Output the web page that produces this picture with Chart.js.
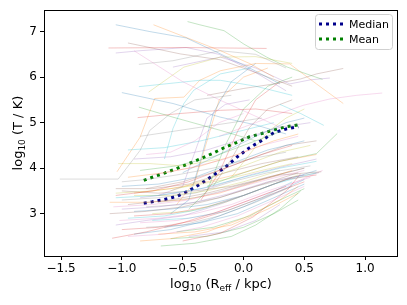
<!DOCTYPE html>
<html lang="en">
<head>
    <meta charset="UTF-8">
    <title>Temperature vs effective radius</title>
    <script src="https://cdn.jsdelivr.net/npm/chart.js"></script>
    <style>
        body { margin: 0; background: #fff; }
        canvas { display: block; }
    </style>
</head>
<body>
    <canvas id="tempChart" width="407" height="305"></canvas>
    <script>
        // summary curves
        const medianX = [-0.82, -0.75, -0.65, -0.55, -0.45, -0.35, -0.25, -0.15, -0.05, 0.05, 0.15, 0.25, 0.35, 0.45];
        const medianY = [3.23, 3.26, 3.31, 3.38, 3.50, 3.66, 3.84, 4.02, 4.25, 4.45, 4.61, 4.78, 4.86, 4.91];
        const meanX = [-0.82, -0.75, -0.65, -0.55, -0.45, -0.35, -0.25, -0.15, -0.05, 0.05, 0.15, 0.25, 0.35, 0.45];
        const meanY = [3.73, 3.80, 3.89, 3.99, 4.10, 4.21, 4.33, 4.46, 4.57, 4.69, 4.76, 4.84, 4.91, 4.95];

        const xTicks = [-1.5, -1.0, -0.5, 0.0, 0.5, 1.0];
        const yTicks = [3, 4, 5, 6, 7];

        // individual tracks, [log R, log T] pairs
        const upperTracks = [
            [[-1.05,7.15],[-0.77,7.0],[-0.47,6.86],[-0.19,6.51],[0.05,6.2],[0.3,5.85]],
            [[-0.74,7.15],[-0.47,6.87],[-0.19,6.58],[0.05,6.3],[0.25,6.0]],
            [[-0.46,7.22],[-0.36,7.15],[-0.16,7.02],[0.0,6.73],[0.19,6.44],[0.36,6.22],[0.55,6.04],[0.65,5.95]],
            [[-1.11,6.64],[-0.5,6.65],[0.19,6.63]],
            [[-1.05,6.53],[-0.85,6.58],[-0.47,6.65],[-0.2,6.5],[0.1,6.1],[0.35,5.7]],
            [[-0.95,6.75],[-0.52,6.51],[-0.19,6.38],[0.1,6.1],[0.4,5.8]],
            [[-0.9,6.58],[-0.5,5.9],[-0.19,5.49],[0.05,5.2],[0.3,4.9]],
            [[-0.86,6.28],[-0.58,6.36],[-0.19,6.58],[0.1,6.5],[0.35,6.2]],
            [[-0.78,5.67],[-0.49,6.22],[-0.19,6.44],[0.1,6.45],[0.4,6.3]],
            [[-0.86,5.79],[-0.36,5.93],[-0.19,5.93],[0.1,5.8],[0.4,5.6]],
            [[-1.0,5.66],[-0.58,5.42],[-0.19,5.12],[0.1,4.95],[0.35,4.75]],
            [[-1.04,3.92],[-0.85,4.68],[-0.73,5.53],[-0.49,5.56],[-0.36,5.93],[-0.19,6.14],[0.1,6.3],[0.38,6.29],[0.6,5.85],[0.82,5.42]],
            [[-0.86,5.34],[-0.58,5.12],[-0.19,4.83],[0.1,4.6]],
            [[-0.87,5.11],[-0.52,5.2],[-0.19,5.27],[0.1,5.3],[0.4,5.2]],
            [[-0.58,6.22],[-0.19,6.44],[0.1,6.2],[0.38,5.85],[0.55,5.94],[0.71,5.98]],
            [[-0.3,5.6],[0.0,5.75],[0.25,5.85],[0.47,5.96],[0.6,6.07],[0.82,6.19]],
            [[-0.2,4.7],[0.1,5.0],[0.3,5.2],[0.49,5.38],[0.71,5.52],[0.93,5.6],[1.14,5.65]],
            [[-1.51,3.76],[-1.03,3.76],[-0.85,4.39],[-0.77,4.83],[-0.6,5.2],[-0.4,5.5],[-0.1,5.6]],
            [[-1.03,4.1],[-0.77,4.1],[-0.5,4.05],[-0.2,4.2]],
            [[0.3,5.4],[0.47,5.2],[0.66,4.94]],
            [[-0.6,3.0],[-0.45,3.3],[-0.35,4.2],[-0.25,5.2],[-0.1,5.9],[0.1,6.3]],
            [[-0.55,3.2],[-0.4,3.7],[-0.3,4.6],[-0.2,5.5],[0.0,6.0],[0.2,6.2]],
            [[-0.45,3.1],[-0.3,3.5],[-0.15,4.5],[0.0,5.3],[0.2,5.8],[0.4,6.0]],
            [[-0.35,3.3],[-0.2,3.9],[-0.05,4.8],[0.1,5.5],[0.3,5.9]],
            [[-0.7,3.4],[-0.5,3.6],[-0.38,4.5],[-0.3,5.1],[-0.15,5.4],[0.05,5.5]],
            [[-0.25,3.6],[-0.1,4.2],[0.05,4.9],[0.2,5.3],[0.4,5.5]],
            [[-0.8,4.3],[-0.6,4.35],[-0.4,4.6],[-0.2,5.0],[0.0,5.2]],
            [[-0.85,4.7],[-0.6,4.8],[-0.35,4.9],[-0.1,5.0],[0.15,5.1]],
            [[-0.1,3.8],[0.05,4.3],[0.2,4.8],[0.35,5.1],[0.5,5.3]],
            [[-0.65,4.2],[-0.58,4.87],[-0.49,5.42],[-0.41,5.71],[-0.19,6.07],[0.05,6.2]]
        ];

        const middleTracks = [
            [[-1.0,3.6],[-0.7,3.65],[-0.4,3.8],[-0.1,4.1],[0.2,4.4],[0.5,4.6]],
            [[-0.95,3.8],[-0.65,3.9],[-0.35,4.05],[-0.05,4.3],[0.25,4.6],[0.45,4.75]],
            [[-0.85,3.95],[-0.55,4.05],[-0.25,4.25],[0.05,4.55],[0.3,4.8]],
            [[-1.05,3.4],[-0.75,3.5],[-0.45,3.7],[-0.15,4.0],[0.15,4.3],[0.4,4.5]],
            [[-0.9,4.2],[-0.6,4.25],[-0.3,4.4],[0.0,4.65],[0.3,4.9],[0.55,5.0]],
            [[-0.8,3.55],[-0.5,3.7],[-0.2,3.95],[0.1,4.25],[0.35,4.5],[0.6,4.6]],
            [[-0.75,3.85],[-0.45,4.0],[-0.15,4.2],[0.15,4.5],[0.45,4.7]],
            [[-1.0,3.7],[-0.8,3.75],[-0.55,3.85],[-0.25,4.0],[0.05,4.2],[0.35,4.35]],
            [[-0.6,3.5],[-0.3,3.75],[0.0,4.05],[0.3,4.35],[0.55,4.5]],
            [[-0.95,4.4],[-0.65,4.45],[-0.35,4.6],[-0.05,4.8],[0.25,5.0]],
            [[-0.5,3.9],[-0.2,4.3],[0.1,4.7],[0.35,5.0],[0.5,5.1]],
            [[-0.9,3.45],[-0.6,3.55],[-0.3,3.7],[0.0,3.9],[0.3,4.15],[0.6,4.3]],
            [[-0.3,3.6],[0.0,3.9],[0.3,4.15],[0.6,4.32],[0.77,4.76]]
        ];

        const lowerTracks = [
            [[-1.08,2.46],[-0.8,2.6],[-0.5,2.8],[-0.2,3.05],[0.1,3.35],[0.35,3.6]],
            [[-1.05,2.75],[-0.8,2.85],[-0.5,2.95],[-0.2,3.2],[0.1,3.5],[0.4,3.8]],
            [[-1.1,3.0],[-0.8,3.05],[-0.5,3.15],[-0.2,3.35],[0.1,3.6],[0.45,3.9]],
            [[-1.07,3.15],[-0.75,3.2],[-0.45,3.3],[-0.15,3.5],[0.2,3.75],[0.5,3.95]],
            [[-1.0,3.3],[-0.7,3.35],[-0.4,3.45],[-0.1,3.7],[0.2,3.9],[0.55,4.05]],
            [[-1.05,3.45],[-0.75,3.5],[-0.45,3.6],[-0.15,3.75],[0.15,3.95],[0.4,4.1]],
            [[-0.95,2.9],[-0.65,2.95],[-0.35,3.1],[-0.05,3.35],[0.25,3.65],[0.6,3.9]],
            [[-0.9,2.55],[-0.6,2.65],[-0.3,2.85],[0.0,3.15],[0.3,3.5],[0.5,3.75]],
            [[-0.85,2.4],[-0.6,2.45],[-0.3,2.6],[0.0,2.9],[0.3,3.3],[0.45,3.6]],
            [[-0.68,2.29],[-0.4,2.35],[-0.1,2.5],[0.1,2.75],[0.3,3.1],[0.47,3.5]],
            [[-0.5,2.4],[-0.19,2.57],[0.08,2.93],[0.36,3.52],[0.47,3.88]],
            [[-1.0,3.1],[-0.7,3.15],[-0.4,3.25],[-0.1,3.45],[0.2,3.7],[0.5,3.85]],
            [[-0.95,3.2],[-0.6,3.3],[-0.3,3.45],[0.0,3.65],[0.3,3.85],[0.64,3.92]],
            [[-1.02,2.85],[-0.7,2.9],[-0.4,3.0],[-0.1,3.2],[0.2,3.5],[0.55,3.8]],
            [[-0.8,2.7],[-0.5,2.75],[-0.2,2.95],[0.1,3.25],[0.4,3.6]],
            [[-0.75,3.0],[-0.45,3.05],[-0.15,3.25],[0.15,3.55],[0.45,3.85]],
            [[-1.05,3.35],[-0.7,3.4],[-0.35,3.55],[0.0,3.8],[0.3,4.0],[0.6,4.15]],
            [[-0.9,3.05],[-0.6,3.1],[-0.3,3.2],[0.0,3.4],[0.3,3.7],[0.6,3.95]],
            [[-0.7,2.55],[-0.4,2.6],[-0.1,2.75],[0.2,3.1],[0.45,3.45]],
            [[-0.6,2.45],[-0.3,2.5],[0.0,2.7],[0.25,3.0],[0.45,3.3]],
            [[-1.0,2.65],[-0.7,2.7],[-0.4,2.85],[-0.1,3.1],[0.2,3.4],[0.5,3.7]],
            [[-0.85,3.35],[-0.55,3.45],[-0.25,3.6],[0.05,3.85],[0.35,4.05],[0.6,4.2]],
            [[-1.05,3.55],[-0.75,3.55],[-0.45,3.65],[-0.15,3.9],[0.15,4.1],[0.45,4.25]],
            [[-0.95,2.5],[-0.65,2.55],[-0.35,2.7],[-0.05,2.95],[0.25,3.3],[0.5,3.6]],
            [[-0.8,3.15],[-0.5,3.2],[-0.2,3.35],[0.1,3.6],[0.4,3.8],[0.62,3.9]],
            [[-0.9,3.4],[-0.6,3.4],[-0.3,3.5],[0.0,3.7],[0.3,3.95]],
            [[-0.75,2.85],[-0.45,2.9],[-0.15,3.05],[0.15,3.35],[0.4,3.7]],
            [[-0.65,2.7],[-0.35,2.8],[-0.05,3.0],[0.25,3.35],[0.5,3.65]],
            [[-1.1,3.25],[-0.8,3.25],[-0.5,3.3],[-0.2,3.45],[0.1,3.7],[0.4,3.95]],
            [[-0.55,2.6],[-0.25,2.7],[0.05,2.95],[0.3,3.3],[0.5,3.55]],
            [[-0.9,2.95],[-0.6,3.0],[-0.3,3.15],[0.0,3.4],[0.35,3.75],[0.6,3.85]],
            [[-0.45,2.5],[-0.15,2.6],[0.1,2.85],[0.3,3.2]],
            [[-1.0,3.5],[-0.7,3.45],[-0.4,3.5],[-0.1,3.6],[0.2,3.8],[0.5,4.0]],
            [[-0.85,2.8],[-0.55,2.85],[-0.25,3.0],[0.05,3.3],[0.35,3.6],[0.65,3.95]],
            [[-0.7,3.25],[-0.4,3.35],[-0.1,3.55],[0.2,3.8],[0.5,4.0]]
        ];

        const tab10 = ['#1f77b4', '#ff7f0e', '#2ca02c', '#d62728', '#9467bd',
                       '#8c564b', '#e377c2', '#7f7f7f', '#bcbd22', '#17becf'];

        function fade(hex, a) {
            const n = parseInt(hex.slice(1), 16);
            return 'rgba(' + (n >> 16) + ',' + ((n >> 8) & 255) + ',' + (n & 255) + ',' + a + ')';
        }

        const allTracks = upperTracks.concat(middleTracks, lowerTracks);
        const trackSets = allTracks.map((pts, i) => ({
            label: 'track',
            data: pts.map(p => ({ x: p[0], y: p[1] })),
            borderColor: fade(tab10[i % 10], 0.35),
            borderWidth: 0.8,
            showLine: true,
            pointRadius: 0,
            fill: false
        }));

        const summarySets = [
            {
                label: 'Median',
                data: medianX.map((x, i) => ({ x: x, y: medianY[i] })),
                borderColor: '#00008b',
                borderWidth: 3,
                borderDash: [3, 4],
                showLine: true,
                pointRadius: 0,
                fill: false
            },
            {
                label: 'Mean',
                data: meanX.map((x, i) => ({ x: x, y: meanY[i] })),
                borderColor: '#008000',
                borderWidth: 3,
                borderDash: [3, 4],
                showLine: true,
                pointRadius: 0,
                fill: false
            }
        ];

        const minus = v => String(v).replace('-', '\u2212');

        // frame, axis titles with subscripts, legend box
        const decorations = {
            id: 'decorations',
            afterDraw(chart) {
                const ctx = chart.ctx;
                const a = chart.chartArea;
                ctx.save();
                ctx.strokeStyle = '#000';
                ctx.lineWidth = 1;
                ctx.strokeRect(Math.round(a.left) + 0.5, Math.round(a.top) + 0.5,
                               Math.round(a.right - a.left) - 1, Math.round(a.bottom - a.top));

                // axis titles
                const big = '13px "DejaVu Sans"';
                const small = '9px "DejaVu Sans"';
                function drawParts(parts, cx, cy) {
                    let w = 0;
                    parts.forEach(p => { ctx.font = p[1] ? small : big; w += ctx.measureText(p[0]).width; });
                    let x = cx - w / 2;
                    ctx.textBaseline = 'alphabetic';
                    ctx.textAlign = 'left';
                    parts.forEach(p => {
                        ctx.font = p[1] ? small : big;
                        ctx.fillText(p[0], x, cy + (p[1] ? 3 : 0));
                        x += ctx.measureText(p[0]).width;
                    });
                }
                ctx.fillStyle = '#000';
                drawParts([['log', 0], ['10', 1], [' (R', 0], ['eff', 1], [' / kpc)', 0]], (a.left + a.right) / 2, 288);
                ctx.save();
                ctx.translate(22, (a.top + a.bottom) / 2);
                ctx.rotate(-Math.PI / 2);
                drawParts([['log', 0], ['10', 1], [' (T / K)', 0]], 0, 0);
                ctx.restore();

                // legend
                const bx = 315, by = 14, bw = 77, bh = 35;
                ctx.beginPath();
                ctx.roundRect(bx + 0.5, by + 0.5, bw, bh, 3);
                ctx.fillStyle = 'rgba(255,255,255,0.8)';
                ctx.fill();
                ctx.strokeStyle = '#d0d0d0';
                ctx.lineWidth = 1;
                ctx.stroke();
                ctx.font = '11px "DejaVu Sans"';
                ctx.textBaseline = 'middle';
                ctx.textAlign = 'left';
                summarySets.forEach((ds, i) => {
                    const y = by + 10 + i * 15;
                    ctx.beginPath();
                    ctx.setLineDash(ds.borderDash);
                    ctx.strokeStyle = ds.borderColor;
                    ctx.lineWidth = ds.borderWidth;
                    ctx.moveTo(bx + 4, y);
                    ctx.lineTo(bx + 28, y);
                    ctx.stroke();
                    ctx.setLineDash([]);
                    ctx.fillStyle = '#000';
                    ctx.fillText(ds.label, bx + 34, y + 1);
                });
                ctx.restore();
            }
        };

        new Chart(document.getElementById('tempChart'), {
            type: 'scatter',
            data: { datasets: trackSets.concat(summarySets) },
            options: {
                responsive: false,
                animation: false,
                layout: { padding: { top: 9, right: 9, left: 0, bottom: 0 } },
                plugins: {
                    legend: { display: false },
                    tooltip: { enabled: false }
                },
                scales: {
                    x: {
                        type: 'linear',
                        min: -1.64,
                        max: 1.27,
                        afterFit: s => { s.height = 49; },
                        afterBuildTicks: s => { s.ticks = xTicks.map(v => ({ value: v })); },
                        border: { display: false },
                        grid: { drawOnChartArea: false, drawTicks: true, tickLength: 4, tickColor: '#000' },
                        ticks: {
                            color: '#000',
                            padding: 2,
                            maxRotation: 0,
                            font: { family: 'DejaVu Sans', size: 12 },
                            callback: v => minus(v.toFixed(1))
                        }
                    },
                    y: {
                        type: 'linear',
                        min: 2.07,
                        max: 7.47,
                        afterFit: s => { s.width = 44; },
                        afterBuildTicks: s => { s.ticks = yTicks.map(v => ({ value: v })); },
                        border: { display: false },
                        grid: { drawOnChartArea: false, drawTicks: true, tickLength: 4, tickColor: '#000' },
                        ticks: {
                            color: '#000',
                            padding: 3,
                            font: { family: 'DejaVu Sans', size: 12 },
                            callback: v => String(v)
                        }
                    }
                }
            },
            plugins: [decorations]
        });
    </script>
</body>
</html>
